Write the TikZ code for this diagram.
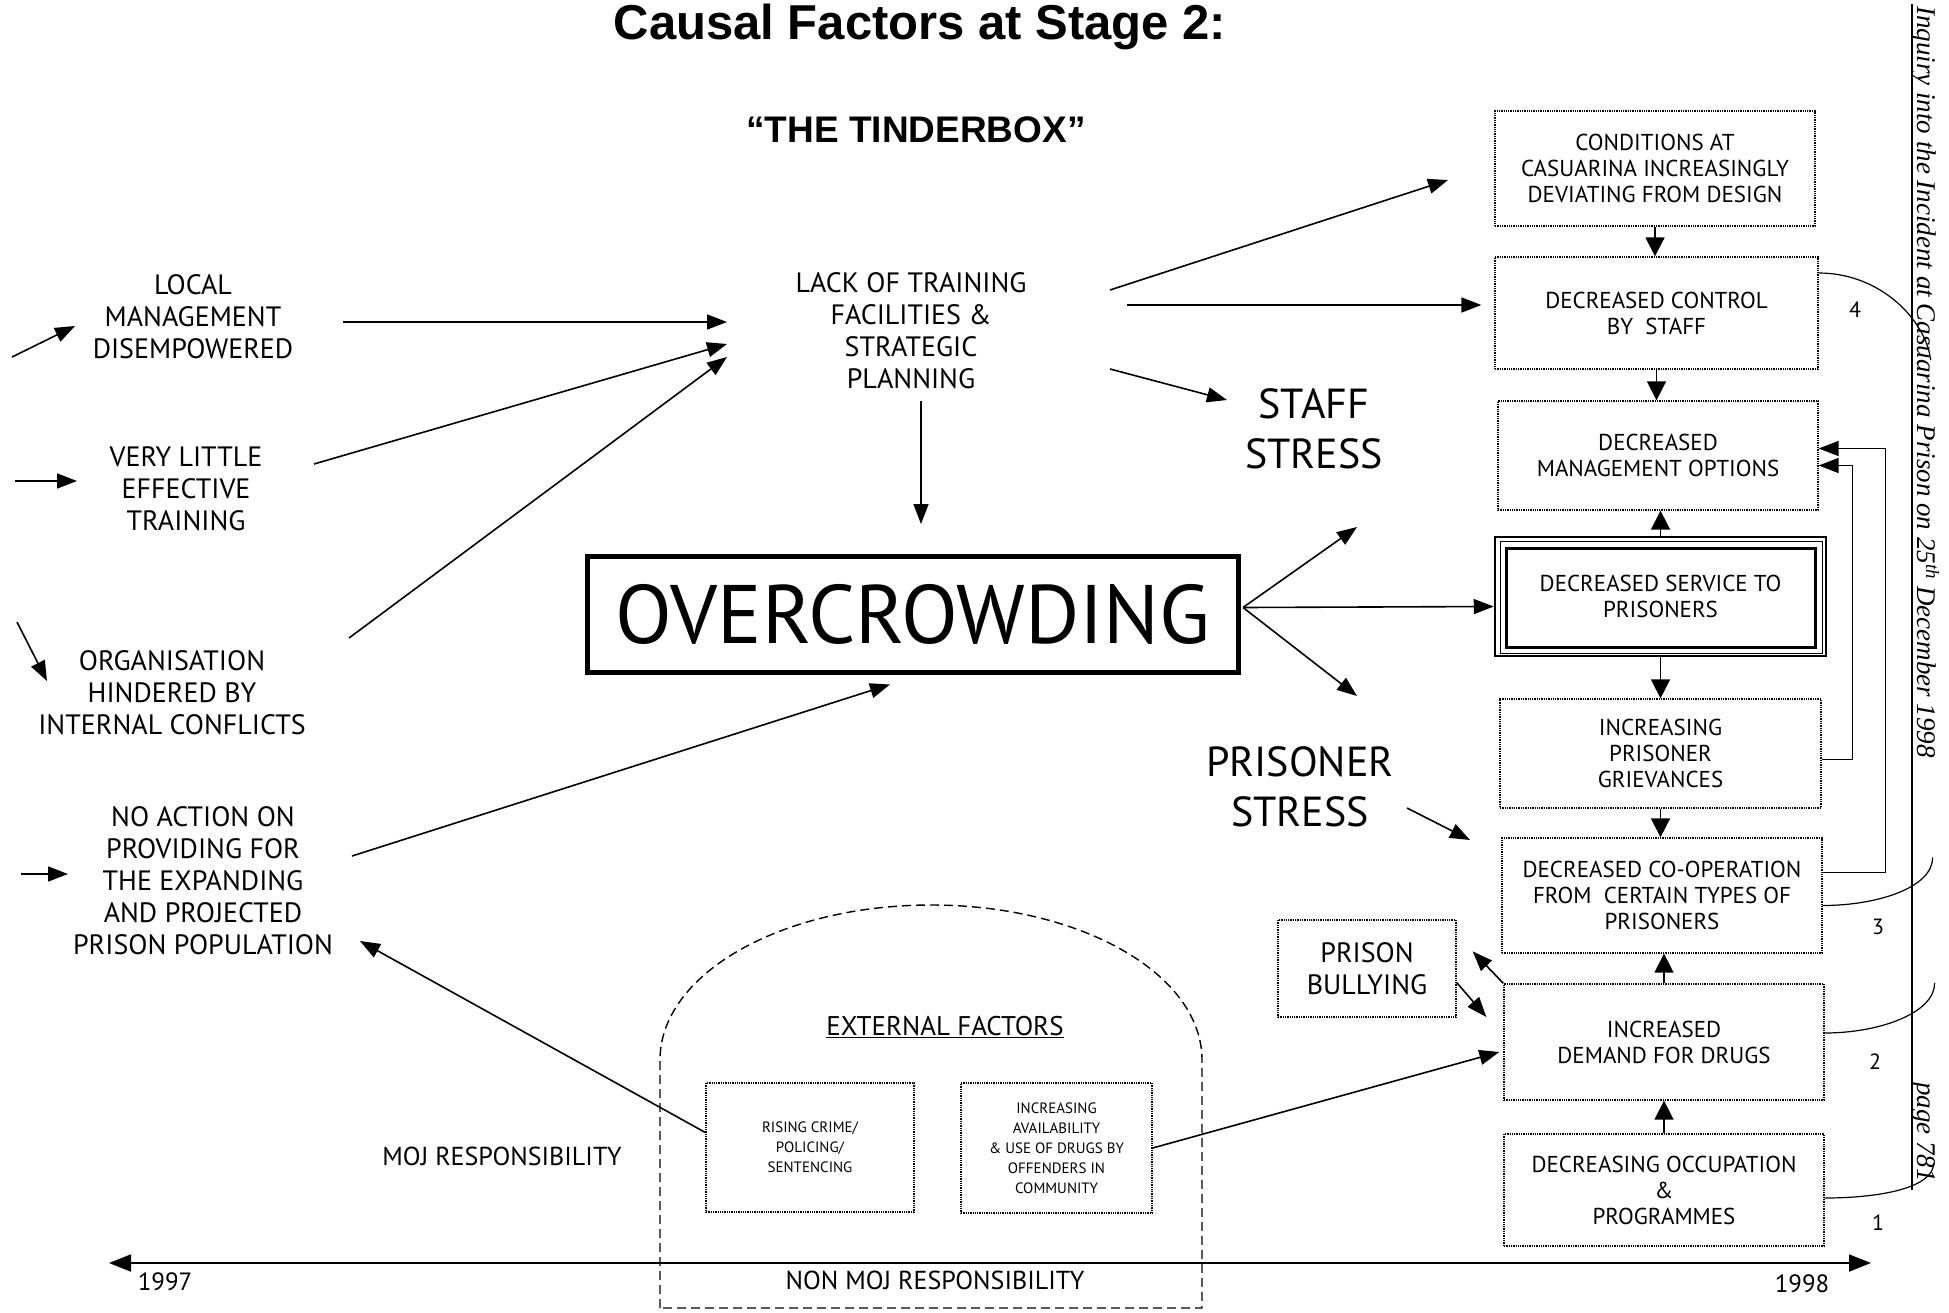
\documentclass[tikz,border=0pt]{standalone}
\usepackage{fontspec}
\setmainfont{PT Sans}
\newfontfamily\titlefont{Liberation Sans}
\newfontfamily\hdrfont{Liberation Serif}
\usetikzlibrary{arrows.meta}
\newcommand{\myfs}[2]{\fontsize{#1}{#2}\selectfont}
\begin{document}
\begin{tikzpicture}[x=1pt,y=-1pt,
  txt/.style={align=center,inner sep=0pt},
  lbl/.style={txt,font=\myfs{28}{32}},
  stress/.style={txt,font=\myfs{42}{50}},
  rbox/.style={draw,densely dotted,line width=1.3pt,align=center,inner sep=0pt,font=\myfs{23}{26}},
  sbox/.style={rbox,font=\myfs{15}{20}},
  arr/.style={line width=1.6pt,-{Triangle[length=20pt,width=15pt]}},
  arrS/.style={line width=1.6pt,-{Triangle[length=19pt,width=19pt]}},
  num/.style={txt,font=\myfs{22}{24}},
  curve/.style={line width=1.2pt},
  dome/.style={line width=1.4pt,dash pattern=on 9pt off 5pt},
]
\fill[white] (0,0) rectangle (1949,1312);
\useasboundingbox (0,0) rectangle (1949,1312);

% titles
\node[txt,font=\titlefont\bfseries\myfs{49}{54}] (title) at (920,27) {Causal Factors at Stage 2:};
\node[txt,font=\titlefont\bfseries\myfs{37}{42}] (tinder) at (916,130) {“THE TINDERBOX”};

% left column
\node[lbl] (local) at (193,317) {LOCAL\\MANAGEMENT\\DISEMPOWERED};
\node[lbl] (vlt) at (186,489) {VERY LITTLE\\EFFECTIVE\\TRAINING};
\node[lbl] (org) at (172,693) {ORGANISATION\\HINDERED BY\\INTERNAL CONFLICTS};
\node[lbl] (noact) at (203,881) {NO ACTION ON\\PROVIDING FOR\\THE EXPANDING\\AND PROJECTED\\PRISON POPULATION};

\coordinate (inL) at (12,357);
\coordinate (inV) at (15,481);
\coordinate (inO) at (17,622);
\coordinate (inN) at (21,874);

% centre
\node[lbl] (lack) at (911,331) {LACK OF TRAINING\\FACILITIES \&\\STRATEGIC\\PLANNING};
\node[draw,line width=5pt,minimum width=651pt,minimum height=116pt,inner sep=0pt,font=\myfs{83}{90}] (over) at (913,614.5) {OVERCROWDING};
\node[stress] (staff) at (1314,429) {STAFF\\STRESS};
\node[stress] (pst) at (1300,787) {PRISONER\\STRESS};

% right column
\node[rbox,minimum width=320pt,minimum height=115pt] (cond) at (1655,168.5) {CONDITIONS AT\\CASUARINA INCREASINGLY\\DEVIATING FROM DESIGN};
\node[rbox,minimum width=323pt,minimum height=112pt] (ctrl) at (1656.5,313) {DECREASED CONTROL\\BY\ \ STAFF};
\node[rbox,minimum width=320pt,minimum height=109pt] (mgmt) at (1658,455.5) {DECREASED\\MANAGEMENT OPTIONS};
\node[draw,line width=2.5pt,minimum width=331pt,minimum height=119pt,inner sep=0pt,align=center,font=\myfs{23}{26}] (serv) at (1660.5,596.5) {DECREASED SERVICE TO\\PRISONERS};
\draw[line width=1pt] ([shift={(7,6)}]serv.north west) rectangle ([shift={(-5,-4)}]serv.south east);
\draw[line width=3pt] ([shift={(13,13)}]serv.north west) rectangle ([shift={(-12,-10)}]serv.south east);
\node[rbox,minimum width=321pt,minimum height=109pt] (griev) at (1660.5,753.5) {INCREASING\\PRISONER\\GRIEVANCES};
\node[rbox,minimum width=320pt,minimum height=115pt] (coop) at (1662,895.5) {DECREASED CO-OPERATION\\FROM\ \ CERTAIN TYPES OF\\PRISONERS};
\node[rbox,minimum width=320pt,minimum height=116pt] (drugs) at (1664,1042) {INCREASED\\DEMAND FOR DRUGS};
\node[rbox,minimum width=320pt,minimum height=112pt] (occ) at (1664,1190) {DECREASING OCCUPATION\\\&\\PROGRAMMES};
\node[rbox,minimum width=178pt,minimum height=97pt,font=\myfs{28}{32}] (bully) at (1367,968.5) {PRISON\\BULLYING};

% external factors
\draw[dome] (660,1308) -- (660,1060) .. controls (660,974) and (781,905) .. (931,905) .. controls (1081,905) and (1202,974) .. (1202,1060) -- (1202,1308) -- cycle;
\node[txt,font=\myfs{27}{32}] (ext) at (945,1027) {\underline{EXTERNAL FACTORS}};
\node[sbox,minimum width=208pt,minimum height=129pt] (rise) at (810,1147.5) {RISING CRIME/\\POLICING/\\SENTENCING};
\node[sbox,minimum width=191pt,minimum height=130pt] (avail) at (1056.5,1148) {INCREASING\\AVAILABILITY\\\& USE OF DRUGS BY\\OFFENDERS IN\\COMMUNITY};
\node[txt,font=\myfs{26}{30}] (moj) at (502,1156) {MOJ RESPONSIBILITY};
\node[txt,font=\myfs{26}{30}] (nonmoj) at (935,1280) {NON MOJ RESPONSIBILITY};

% timeline
\coordinate (tl) at (109,1263);
\coordinate (tr) at (1871,1263);
\draw[line width=1.8pt,{Triangle[length=22pt,width=17pt]}-{Triangle[length=22pt,width=17pt]}] (tl) -- (tr);
\node[txt,font=\myfs{25}{30}] (y97) at (165,1282) {1997};
\node[txt,font=\myfs{25}{30}] (y98) at (1802,1284) {1998};

% page header
\draw[line width=1.2pt] (1912,4) -- (1912,1190);
\node[txt,rotate=-90,anchor=base west,font=\hdrfont\itshape\myfs{27}{30}] (hdr) at (1917,6) {Inquiry into the Incident at Casuarina Prison on 25\textsuperscript{th} December 1998};
\node[txt,rotate=-90,anchor=base west,font=\hdrfont\itshape\myfs{27}{30}] (pg) at (1917,1082) {page 781};

% numbers and curves
\node[num] (n4) at (1855,310) {4};
\node[num] (n3) at (1878,927) {3};
\node[num] (n2) at (1875,1062) {2};
\node[num] (n1) at (1878,1223) {1};
\draw[curve] ([shift={(0,-40)}]ctrl.east) .. controls +(62,0) and +(-5,-40) .. ++(112,87);
\draw[curve] ([shift={(0,10)}]coop.east) .. controls +(55,0) and +(0,30) .. ++(110,-48);
\draw[curve] ([shift={(0,-9)}]drugs.east) .. controls +(55,0) and +(0,30) .. ++(110,-50);
\draw[curve] ([shift={(0,8)}]occ.east) .. controls +(55,0) and +(0,25) .. ++(109,-35);

% connectors: left
\draw[arr] (inL) -- ([shift={(-118,9)}]local.center);
\draw[arr] (inV) -- ([shift={(-109,-8)}]vlt.center);
\draw[arr] (inO) -- ([shift={(-125,-12)}]org.center);
\draw[arr] (inN) -- ([shift={(-135,-7)}]noact.center);
\draw[arr] ([shift={(150,5)}]local.center) -- ([shift={(-184,-9)}]lack.center);
\draw[arr] ([shift={(128,-25)}]vlt.center) -- ([shift={(-184,13)}]lack.center);
\draw[arr] ([shift={(177,-55)}]org.center) -- ([shift={(-184,26)}]lack.center);
\draw[arr] ([shift={(149,-25)}]noact.center) -- ([shift={(-23,70)}]over.center);
\draw[arr] ([shift={(10,70)}]lack.center) -- ([shift={(8,-30)}]over.north);

% connectors: centre to right
\draw[arr] ([shift={(199,-41)}]lack.center) -- ([shift={(-207,11.5)}]cond.center);
\draw[arr] ([shift={(216,-26)}]lack.center) -- ([shift={(-13,-8)}]ctrl.west);
\draw[arr] ([shift={(199,38)}]lack.center) -- ([shift={(-87,-29)}]staff.center);
\draw[arr] ([shift={(2,-7)}]over.east) -- ([shift={(43,98)}]staff.center);
\draw[arr] ([shift={(2,-7)}]over.east) -- ([shift={(0,10)}]serv.west);
\draw[arr] ([shift={(2,-7)}]over.east) -- ([shift={(57,-91)}]pst.center);
\draw[arr] ([shift={(107,21)}]pst.center) -- ([shift={(-192,-55.5)}]coop.center);

% connectors: right column
\draw[arrS] (cond.south) -- (cond.south |- ctrl.north);
\draw[arrS] (ctrl.south) -- (ctrl.south |- mgmt.north);
\draw[arrS] (serv.north) -- (serv.north |- mgmt.south);
\draw[arrS] (serv.south) -- (serv.south |- griev.north);
\draw[arrS] (griev.south) -- (griev.south |- coop.north);
\draw[arrS] (drugs.north) -- (drugs.north |- coop.south);
\draw[arrS] (occ.north) -- (occ.north |- drugs.south);
\draw[arr] ([shift={(0,6)}]griev.east) -- ++(31,0) |- ([shift={(0,10)}]mgmt.east);
\draw[arr] ([shift={(0,-23)}]coop.east) -- ++(63,0) |- ([shift={(0,-7)}]mgmt.east);

% bullying and external
\draw[arr] (drugs.north west) -- ([shift={(16,32)}]bully.north east);
\draw[arr] ([shift={(0,14)}]bully.east) -- ([shift={(-17,-25)}]drugs.west);
\draw[arr] (avail.east) -- ([shift={(-4,10)}]drugs.west);
\draw[arr] ([shift={(0,-15)}]rise.west) -- ([shift={(157,60)}]noact.center);
\end{tikzpicture}
\end{document}
